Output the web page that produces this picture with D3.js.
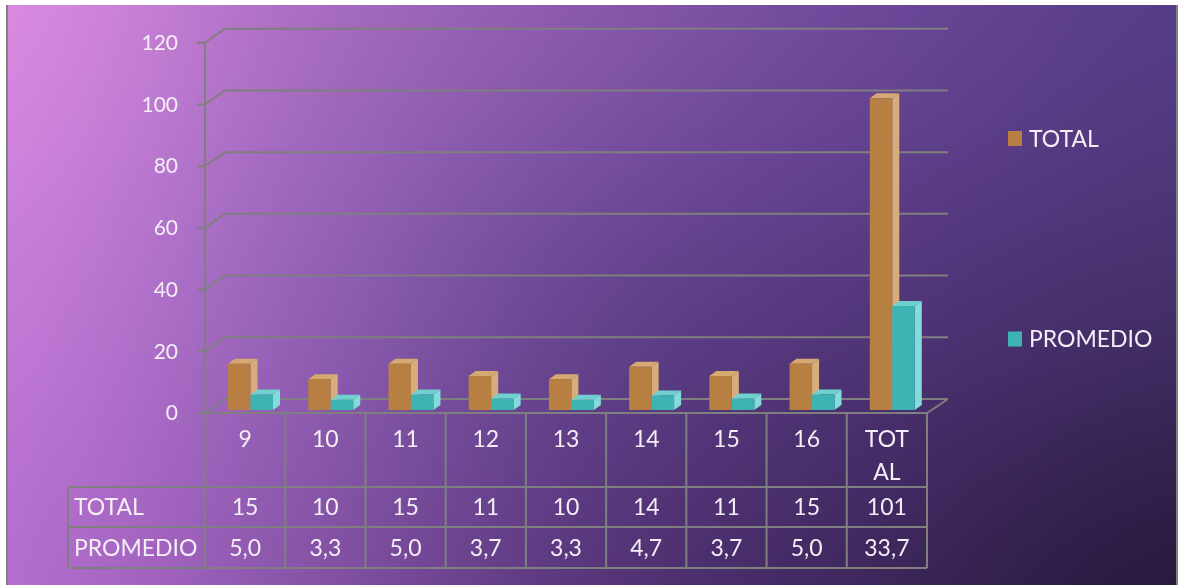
<!DOCTYPE html>
<html>
<head>
<meta charset="utf-8">
<script src="https://cdn.jsdelivr.net/npm/d3@7"></script>
<style>
  html, body { margin: 0; padding: 0; background: #ffffff; }
  #wrap { position: relative; width: 1181px; height: 585px; overflow: hidden; }
  #bg { position: absolute; left: 8px; top: 5px; }
  svg { position: absolute; left: 0; top: 0; }
  text { font-family: Lato, "Open Sans", sans-serif; fill: #f4eef6; }
</style>
</head>
<body>
<div id="wrap">
  <canvas id="bg" width="1168" height="580"></canvas>
  <svg id="chart" width="1181" height="585"></svg>
</div>
<script>
// Data
const categories = ["9", "10", "11", "12", "13", "14", "15", "16", "TOTAL"];
const categoryLines = [["9"], ["10"], ["11"], ["12"], ["13"], ["14"], ["15"], ["16"], ["TOT", "AL"]];
const totalValues = [15, 10, 15, 11, 10, 14, 11, 15, 101];
const promedioValues = [5.0, 3.3, 5.0, 3.7, 3.3, 4.7, 3.7, 5.0, 33.7];
const seriesNames = ["TOTAL", "PROMEDIO"];
const yTicks = [0, 20, 40, 60, 80, 100, 120];

// Background: smooth 2-D colour field (5 x 3 control colours, bilinear)
const bgColors = [
  ["#dc8ce2", "#ab6ec4", "#8a59ad", "#6c489a", "#573c88"],
  ["#c67cd9", "#9361b6", "#65448f", "#52367c", "#45306a"],
  ["#b56ecf", "#8753a8", "#553478", "#3b2558", "#25183a"]
];
(function paintBackground() {
  const rows = bgColors.length, cols = bgColors[0].length;
  const src = document.createElement("canvas");
  src.width = cols; src.height = rows;
  const sctx = src.getContext("2d");
  const img = sctx.createImageData(cols, rows);
  bgColors.forEach((row, r) => row.forEach((c, k) => {
    const rgb = d3.rgb(c), i = (r * cols + k) * 4;
    img.data[i] = rgb.r; img.data[i + 1] = rgb.g; img.data[i + 2] = rgb.b; img.data[i + 3] = 255;
  }));
  sctx.putImageData(img, 0, 0);
  const cv = document.getElementById("bg");
  const ctx = cv.getContext("2d");
  ctx.imageSmoothingEnabled = true;
  ctx.imageSmoothingQuality = "high";
  ctx.drawImage(src, 0.5, 0.5, cols - 1, rows - 1, 0, 0, cv.width, cv.height);
})();

const svg = d3.select("#chart");
const gridColor = "#7f7f7f";
const textSize = 23;

// Frame edges
svg.append("line").attr("x1", 7).attr("x2", 7).attr("y1", 5).attr("y2", 585)
  .attr("stroke", gridColor).attr("stroke-width", 2);
svg.append("line").attr("x1", 1177).attr("x2", 1177).attr("y1", 5).attr("y2", 585)
  .attr("stroke", gridColor).attr("stroke-width", 2);

// Scales
const x = d3.scaleBand().domain(categories).range([205, 927]).padding(0);
const y = d3.scaleLinear().domain([0, 120]).range([413, 42.7]);      // front plane
const depth = { dx: 20, dy: -14 };                                    // back wall offset
const yBar = d3.scaleLinear().domain([0, 120]).range([410, 39.7]);    // bar front faces
const barW = 22.5, barOff = 23, bd = { dx: 7, dy: -5 };

// Back wall gridlines with diagonal tick connectors
const grid = svg.append("g").attr("stroke", gridColor).attr("stroke-width", 2).attr("fill", "none");
yTicks.forEach(t => {
  const yf = y(t);
  grid.append("path").attr("d",
    `M${197},${yf}H${205}L${205 + depth.dx},${yf + depth.dy}H${948}`);
});
// Floor right edge and front edge
grid.append("path").attr("d",
  `M${205},${y(0)}H${927}L${948},${y(0) + depth.dy}`);
// Vertical axis
grid.append("line").attr("x1", 205).attr("x2", 205).attr("y1", y(120)).attr("y2", y(0));

// Y tick labels
svg.append("g").selectAll("text").data(yTicks).join("text")
  .attr("x", 178).attr("y", d => y(d))
  .attr("dy", "0.35em").attr("text-anchor", "end")
  .style("font-size", "21px").text(d => d);

// 3-D bars
const seriesData = [
  { name: seriesNames[0], values: totalValues, front: "#b77f42", side: "#d8ad7b", top: "#d6a970" },
  { name: seriesNames[1], values: promedioValues, front: "#3db3b4", side: "#85dada", top: "#70d0d0" }
];
const bars = svg.append("g");
categories.forEach((c, i) => {
  seriesData.forEach((s, si) => {
    const x0 = x(c) + barOff + si * barW;
    const x1 = x0 + barW;
    const yt = yBar(s.values[i]);
    const yb = yBar(0);
    const g = bars.append("g");
    g.append("path").attr("fill", s.side)
      .attr("d", `M${x1},${yt}L${x1 + bd.dx},${yt + bd.dy}L${x1 + bd.dx},${yb + bd.dy}L${x1},${yb}Z`);
    g.append("path").attr("fill", s.top)
      .attr("d", `M${x0},${yt}L${x0 + bd.dx},${yt + bd.dy}L${x1 + bd.dx},${yt + bd.dy}L${x1},${yt}Z`);
    g.append("rect").attr("fill", s.front)
      .attr("x", x0).attr("y", yt).attr("width", barW).attr("height", yb - yt);
  });
});

// Data table
const rowTop = [413, 487, 527, 568];
const tableLeft = 68;
const tbl = svg.append("g").attr("stroke", gridColor).attr("stroke-width", 2).attr("fill", "none");
rowTop.slice(1).forEach(ry => tbl.append("line").attr("x1", tableLeft).attr("x2", 927).attr("y1", ry).attr("y2", ry));
tbl.append("line").attr("x1", tableLeft).attr("x2", tableLeft).attr("y1", rowTop[1]).attr("y2", rowTop[3]);
categories.forEach(c => tbl.append("line").attr("x1", x(c)).attr("x2", x(c)).attr("y1", rowTop[0]).attr("y2", rowTop[3]));
tbl.append("line").attr("x1", 927).attr("x2", 927).attr("y1", rowTop[0]).attr("y2", rowTop[3]);

const esLocale = d3.formatLocale({ decimal: ",", thousands: ".", grouping: [3], currency: ["", "€"] });
const fmt1 = esLocale.format(".1f");

// Category labels (wrapped)
const catG = svg.append("g").style("font-size", textSize + "px").attr("text-anchor", "middle");
categories.forEach((c, i) => {
  categoryLines[i].forEach((ln, li) => {
    catG.append("text").attr("x", x(c) + x.bandwidth() / 2).attr("y", 439 + li * 33)
      .attr("dy", "0.35em").text(ln);
  });
});

// Row headers and values
const rowsG = svg.append("g").style("font-size", textSize + "px");
const rowMid = [(rowTop[1] + rowTop[2]) / 2, (rowTop[2] + rowTop[3]) / 2];
seriesData.forEach((s, si) => {
  rowsG.append("text").attr("x", 74).attr("y", rowMid[si]).attr("dy", "0.35em").text(s.name);
  categories.forEach((c, i) => {
    rowsG.append("text").attr("x", x(c) + x.bandwidth() / 2).attr("y", rowMid[si])
      .attr("dy", "0.35em").attr("text-anchor", "middle")
      .text(si === 0 ? s.values[i] : fmt1(s.values[i]));
  });
});

// Legend
const legendY = [138.5, 339];
const lg = svg.append("g");
seriesData.forEach((s, si) => {
  lg.append("rect").attr("x", 1008).attr("y", legendY[si] - 7.5).attr("width", 14).attr("height", 15).attr("fill", s.front);
  lg.append("text").attr("x", 1029).attr("y", legendY[si]).attr("dy", "0.35em")
    .style("font-size", textSize + "px").text(s.name);
});
</script>
</body>
</html>
